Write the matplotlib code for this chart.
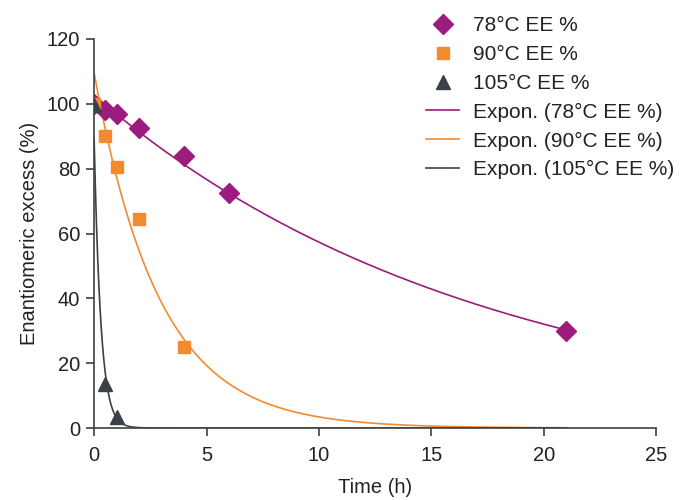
import numpy as np
import matplotlib
matplotlib.use("Agg")
import matplotlib.pyplot as plt

plt.rcParams['font.family'] = ['Liberation Sans', 'DejaVu Sans']

# data
t_78 = [0, 0.5, 1, 2, 4, 6, 21]
ee_78 = [100, 98, 97, 92.5, 84, 72.5, 30]
t_90 = [0, 0.5, 1, 2, 4]
ee_90 = [100, 90, 80.5, 64.5, 25]
t_105 = [0, 0.5, 1]
ee_105 = [99.5, 13.5, 3.5]

c78 = '#9C1B7E'
c90 = '#F28A2E'
c105 = '#3A4148'
axis_col = '#404040'
fs = 14.5


def expon_fit(x, y):
    # same as an Excel exponential trendline: least squares on ln(y)
    b, lna = np.polyfit(np.asarray(x, float), np.log(y), 1)
    return np.exp(lna), b


fig = plt.figure(figsize=(6.82, 5), dpi=100)
ax = fig.add_axes([0.138, 0.144, 0.824, 0.778])

ax.plot(t_78, ee_78, 'D', color=c78, ms=10, label='78°C EE %', zorder=3)
ax.plot(t_90, ee_90, 's', color=c90, ms=8.5, label='90°C EE %', zorder=3)
ax.plot(t_105, ee_105, '^', color=c105, ms=10.5, label='105°C EE %', zorder=3)

tt = np.linspace(0, 21, 400)
for x, y, c, name in [(t_78, ee_78, c78, '78°C EE %'),
                      (t_90, ee_90, c90, '90°C EE %'),
                      (t_105, ee_105, c105, '105°C EE %')]:
    a, b = expon_fit(x, y)
    ax.plot(tt, a * np.exp(b * tt), color=c, lw=1.2, label=f'Expon. ({name})', zorder=2)

ax.set_xlim(0, 25)
ax.set_ylim(0, 120)
ax.set_xticks([0, 5, 10, 15, 20, 25])
ax.set_yticks([0, 20, 40, 60, 80, 100, 120])
ax.set_xlabel('Time (h)', fontsize=fs, color='#222222', labelpad=9)
ax.set_ylabel('Enantiomeric excess (%)', fontsize=fs, color='#222222', labelpad=6)

for s in ['top', 'right']:
    ax.spines[s].set_visible(False)
for s in ['left', 'bottom']:
    ax.spines[s].set_color(axis_col)
    ax.spines[s].set_linewidth(1.2)
ax.tick_params(colors=axis_col, labelcolor='#222222', labelsize=fs,
               direction='out', length=6, width=1.2, pad=4)
ax.tick_params(axis='x', pad=7)

leg = ax.legend(loc='upper left', bbox_to_anchor=(0.576, 1.08), frameon=False,
                fontsize=15, handlelength=1.6, handletextpad=0.65,
                labelspacing=0.47, borderaxespad=0)
for txt in leg.get_texts():
    txt.set_color('#222222')

fig.savefig('out.png', dpi=100)
